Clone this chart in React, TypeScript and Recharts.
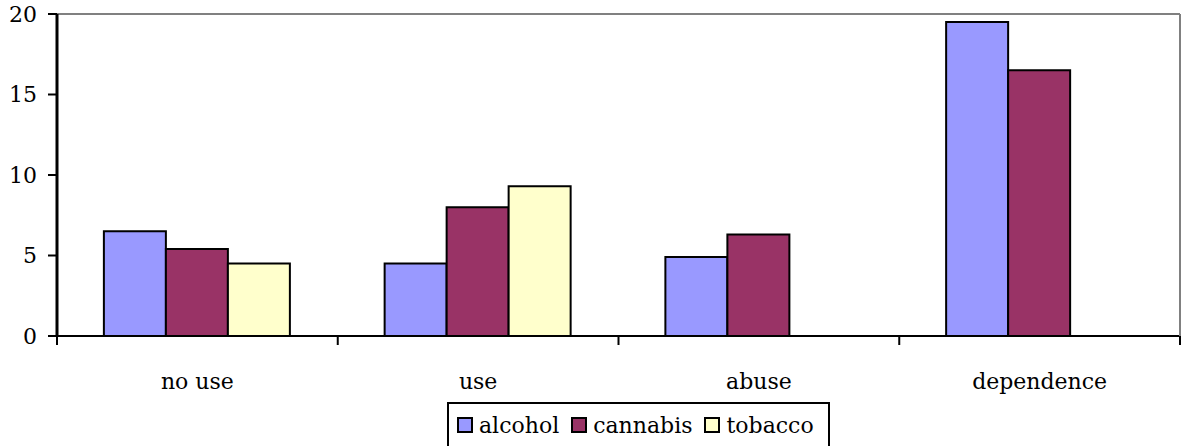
import React from 'react';
import { BarChart, Bar, XAxis, YAxis, CartesianGrid, ReferenceLine } from 'recharts';

const categories = ['no use', 'use', 'abuse', 'dependence'];
const alcohol = [6.5, 4.5, 4.9, 19.5];
const cannabis = [5.4, 8.0, 6.3, 16.5];
const tobacco: (number | null)[] = [4.5, 9.3, null, null];
const yTicks = [0, 5, 10, 15, 20];

const series = [
  { key: 'alcohol', color: '#9999FF' },
  { key: 'cannabis', color: '#993366' },
  { key: 'tobacco', color: '#FFFFCC' },
];

const data = categories.map((name, i) => ({
  name,
  alcohol: alcohol[i],
  cannabis: cannabis[i],
  tobacco: tobacco[i],
}));

const FONT = 'DejaVu Serif, Liberation Serif, serif';
const FONT_SIZE = 22;

// category label in the middle, tick marks on the band edges
const CategoryTick = (props: any) => {
  const { x, y, payload, index, width, visibleTicksCount } = props;
  const band = width / visibleTicksCount;
  const left = x - band / 2;
  return (
    <g>
      <line x1={left} y1={y} x2={left} y2={y + 9} stroke="#000" strokeWidth={2} />
      {index === visibleTicksCount - 1 && (
        <line x1={left + band} y1={y} x2={left + band} y2={y + 9} stroke="#000" strokeWidth={2} />
      )}
      <text x={x} y={y + 53} textAnchor="middle" fill="#000" fontSize={FONT_SIZE} fontFamily={FONT}>
        {payload.value}
      </text>
    </g>
  );
};

const ValueTick = (props: any) => {
  const { x, y, payload } = props;
  return (
    <text x={x} y={y} dy="0.355em" textAnchor="end" fill="#000" fontSize={FONT_SIZE} fontFamily={FONT}>
      {payload.value}
    </text>
  );
};

const LegendBox = () => (
  <div
    style={{
      position: 'absolute',
      left: 447,
      top: 402,
      width: 383,
      height: 44,
      borderTop: '2px solid #000',
      borderLeft: '2px solid #000',
      borderRight: '2px solid #000',
      background: '#fff',
      display: 'flex',
      alignItems: 'flex-start',
      paddingTop: 8,
      paddingLeft: 8,
      boxSizing: 'border-box',
      fontFamily: FONT,
      fontSize: FONT_SIZE,
      lineHeight: '28px',
      whiteSpace: 'nowrap',
    }}
  >
    {series.map((s) => (
      <div key={s.key} style={{ display: 'flex', alignItems: 'baseline', marginRight: 12 }}>
        <span
          style={{
            width: 12,
            height: 12,
            background: s.color,
            border: '2px solid #000',
            display: 'inline-block',
            marginRight: 6,
          }}
        />
        <span>{s.key}</span>
      </div>
    ))}
  </div>
);

export default function App() {
  return (
    <div style={{ position: 'absolute', left: 0, top: 0, width: 1183, height: 446 }}>
      <BarChart
        width={1183}
        height={446}
        data={data}
        margin={{ top: 14, right: 0, left: 0, bottom: 60 }}
        barCategoryGap="16.7%"
        barGap={0}
      >
        <CartesianGrid vertical={false} stroke="#000" strokeWidth={2} />
        <XAxis
          dataKey="name"
          height={50}
          axisLine={{ stroke: '#000', strokeWidth: 2 }}
          tickLine={false}
          tickSize={0}
          tickMargin={0}
          interval={0}
          tick={<CategoryTick />}
        />
        <YAxis
          yAxisId="left"
          width={57}
          domain={[0, 20]}
          ticks={yTicks}
          axisLine={{ stroke: '#000', strokeWidth: 3 }}
          tickLine={{ stroke: '#000', strokeWidth: 2 }}
          tickSize={9}
          tickMargin={11}
          tick={<ValueTick />}
        />
        <YAxis
          yAxisId="right"
          orientation="right"
          width={3}
          domain={[0, 20]}
          ticks={yTicks}
          tick={false}
          tickLine={false}
          axisLine={{ stroke: '#808080', strokeWidth: 2 }}
        />
        <ReferenceLine yAxisId="left" y={20} stroke="#808080" strokeWidth={2} />
        {series.map((s) => (
          <Bar
            key={s.key}
            yAxisId="left"
            dataKey={s.key}
            fill={s.color}
            stroke="#000"
            strokeWidth={2}
            isAnimationActive={false}
          />
        ))}
      </BarChart>
      <LegendBox />
    </div>
  );
}
